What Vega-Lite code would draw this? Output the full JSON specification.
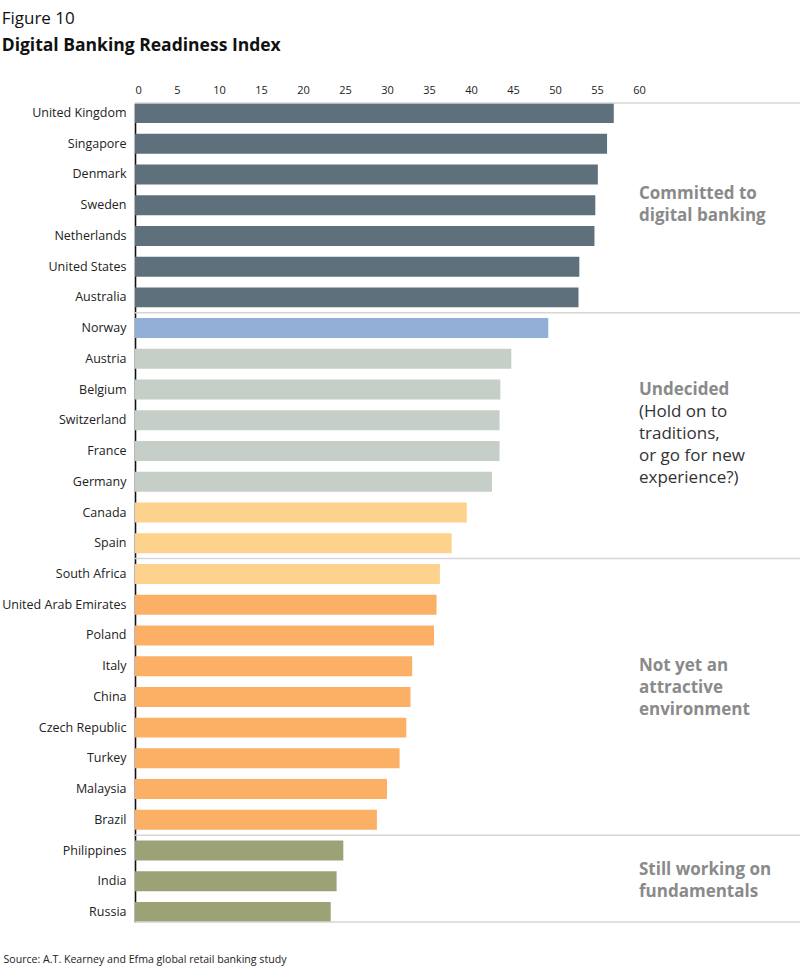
{
  "$schema": "https://vega.github.io/schema/vega-lite/v6.json",
  "width": 665,
  "height": 819,
  "autosize": "none",
  "padding": {"left": 135, "top": 103, "right": 0, "bottom": 56},
  "background": "white",
  "config": {
    "font": "Open Sans",
    "view": {"stroke": null}
  },
  "title": {
    "text": "Figure 10",
    "subtitle": "Digital Banking Readiness Index",
    "anchor": "start",
    "frame": "bounds",
    "font": "Open Sans",
    "fontSize": 17,
    "fontWeight": "normal",
    "color": "#111",
    "subtitleFont": "Open Sans",
    "subtitleFontSize": 17.5,
    "subtitleFontWeight": "bold",
    "subtitleColor": "#111",
    "subtitlePadding": 9,
    "offset": 29
  },
  "datasets": {
    "bars": [
      {"country": "United Kingdom", "value": 57.0, "shade": "committed"},
      {"country": "Singapore", "value": 56.2, "shade": "committed"},
      {"country": "Denmark", "value": 55.1, "shade": "committed"},
      {"country": "Sweden", "value": 54.8, "shade": "committed"},
      {"country": "Netherlands", "value": 54.7, "shade": "committed"},
      {"country": "United States", "value": 52.9, "shade": "committed"},
      {"country": "Australia", "value": 52.8, "shade": "committed"},
      {"country": "Norway", "value": 49.2, "shade": "undecided-top"},
      {"country": "Austria", "value": 44.8, "shade": "undecided"},
      {"country": "Belgium", "value": 43.5, "shade": "undecided"},
      {"country": "Switzerland", "value": 43.4, "shade": "undecided"},
      {"country": "France", "value": 43.4, "shade": "undecided"},
      {"country": "Germany", "value": 42.5, "shade": "undecided"},
      {"country": "Canada", "value": 39.5, "shade": "undecided-low"},
      {"country": "Spain", "value": 37.7, "shade": "undecided-low"},
      {"country": "South Africa", "value": 36.3, "shade": "undecided-low"},
      {"country": "United Arab Emirates", "value": 35.9, "shade": "not-yet"},
      {"country": "Poland", "value": 35.6, "shade": "not-yet"},
      {"country": "Italy", "value": 33.0, "shade": "not-yet"},
      {"country": "China", "value": 32.8, "shade": "not-yet"},
      {"country": "Czech Republic", "value": 32.3, "shade": "not-yet"},
      {"country": "Turkey", "value": 31.5, "shade": "not-yet"},
      {"country": "Malaysia", "value": 30.0, "shade": "not-yet"},
      {"country": "Brazil", "value": 28.8, "shade": "not-yet"},
      {"country": "Philippines", "value": 24.8, "shade": "fundamentals"},
      {"country": "India", "value": 24.0, "shade": "fundamentals"},
      {"country": "Russia", "value": 23.3, "shade": "fundamentals"}
    ],
    "separators": [
      {"country": "Norway"},
      {"country": "South Africa"},
      {"country": "Philippines"}
    ],
    "labelsOnRow": [
      {"label": ["Undecided"], "anchor": "Belgium"},
      {"label": ["Not yet an", "attractive", "environment"], "anchor": "Italy"}
    ],
    "labelsBetweenRows": [
      {"label": ["Committed to", "digital banking"], "anchor": "Denmark"},
      {"label": ["Still working on", "fundamentals"], "anchor": "Philippines"}
    ],
    "groupNotes": [
      {"label": ["(Hold on to", "traditions,", "or go for new", "experience?)"], "anchor": "Switzerland"}
    ]
  },
  "resolve": {"axis": {"x": "independent"}},
  "layer": [
    {
      "data": {"name": "bars"},
      "mark": {"type": "bar"},
      "encoding": {
        "y": {
          "field": "country",
          "type": "nominal",
          "sort": null,
          "scale": {"paddingInner": 0.35, "paddingOuter": 0},
          "axis": {
            "title": null,
            "ticks": false,
            "domain": true,
            "domainColor": "#111",
            "domainWidth": 1.6,
            "labelFontSize": 12.5,
            "labelColor": "#222",
            "labelPadding": 9,
            "labelFont": "Open Sans"
          }
        },
        "x": {
          "field": "value",
          "type": "quantitative",
          "scale": {"domain": [0, 79.17], "nice": false},
          "axis": {
            "orient": "top",
            "title": null,
            "values": [0, 5, 10, 15, 20, 25, 30, 35, 40, 45, 50, 55, 60],
            "ticks": false,
            "domain": false,
            "grid": false,
            "labelFontSize": 11,
            "labelColor": "#222",
            "labelPadding": 8,
            "labelFont": "Open Sans"
          }
        },
        "color": {
          "field": "shade",
          "type": "nominal",
          "legend": null,
          "scale": {
            "domain": ["committed", "undecided-top", "undecided", "undecided-low", "not-yet", "fundamentals"],
            "range": ["#5e707c", "#92afd7", "#c6cec8", "#fdd28c", "#fbb066", "#9ca276"]
          }
        }
      }
    },
    {
      "data": {"name": "separators"},
      "mark": {"type": "rule", "color": "#d6d6d6", "strokeWidth": 1.5, "yOffset": -5.4},
      "encoding": {
        "y": {"field": "country", "type": "nominal", "sort": null, "bandPosition": 0}
      }
    },
    {
      "data": {"values": [{"country": "United Kingdom"}]},
      "mark": {"type": "rule", "color": "#d6d6d6", "strokeWidth": 1.5},
      "encoding": {
        "y": {"field": "country", "type": "nominal", "sort": null, "bandPosition": 0}
      }
    },
    {
      "data": {"values": [{"country": "Russia"}]},
      "mark": {"type": "rule", "color": "#d6d6d6", "strokeWidth": 1.5},
      "encoding": {
        "y": {"field": "country", "type": "nominal", "sort": null, "bandPosition": 1}
      }
    },
    {
      "data": {"name": "labelsOnRow"},
      "mark": {
        "type": "text",
        "align": "left",
        "baseline": "middle",
        "font": "Open Sans",
        "fontSize": 17,
        "fontWeight": "bold",
        "color": "#8a8a8a",
        "lineHeight": 22
      },
      "encoding": {
        "y": {"field": "anchor", "type": "nominal", "sort": null, "bandPosition": 0.5},
        "x": {
          "datum": 60,
          "type": "quantitative",
          "axis": {
            "orient": "bottom",
            "labels": false,
            "ticks": false,
            "domain": false,
            "grid": false,
            "title": "Source: A.T. Kearney and Efma global retail banking study",
            "titleAnchor": "start",
            "titleAlign": "left",
            "titleBaseline": "middle",
            "titleX": -132,
            "titleY": 37,
            "titleFont": "Open Sans",
            "titleFontSize": 10.6,
            "titleFontWeight": "normal",
            "titleColor": "#222"
          }
        },
        "text": {"field": "label"}
      }
    },
    {
      "data": {"name": "labelsBetweenRows"},
      "mark": {
        "type": "text",
        "align": "left",
        "baseline": "middle",
        "font": "Open Sans",
        "fontSize": 17,
        "fontWeight": "bold",
        "color": "#8a8a8a",
        "lineHeight": 22
      },
      "encoding": {
        "y": {"field": "anchor", "type": "nominal", "sort": null, "bandPosition": 1.47},
        "x": {"datum": 60, "type": "quantitative", "axis": null},
        "text": {"field": "label"}
      }
    },
    {
      "data": {"name": "groupNotes"},
      "mark": {
        "type": "text",
        "align": "left",
        "baseline": "middle",
        "font": "Open Sans",
        "fontSize": 17,
        "color": "#333",
        "lineHeight": 22
      },
      "encoding": {
        "y": {"field": "anchor", "type": "nominal", "sort": null, "bandPosition": 0.1},
        "x": {"datum": 60, "type": "quantitative", "axis": null},
        "text": {"field": "label"}
      }
    }
  ]
}
